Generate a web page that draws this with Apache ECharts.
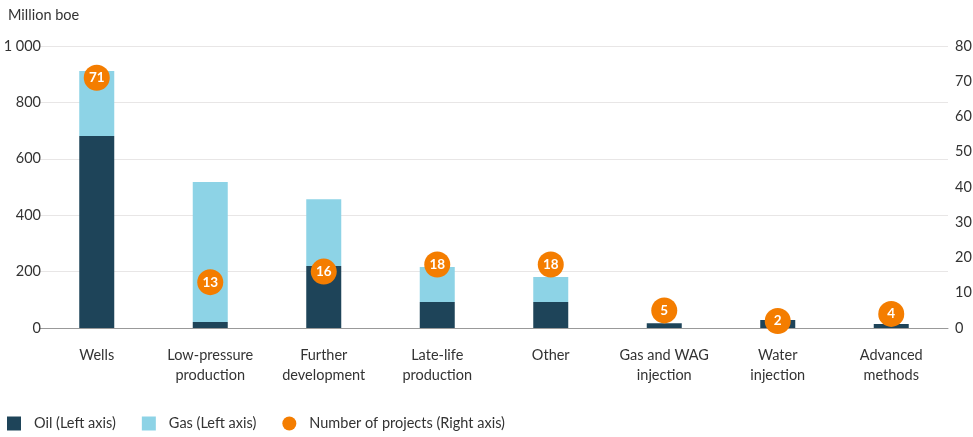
<!DOCTYPE html>
<html>
<head>
<meta charset="utf-8">
<script src="https://cdn.jsdelivr.net/npm/echarts@6/dist/echarts.min.js"></script>
<style>
  html, body { margin: 0; padding: 0; background: #fff; }
  #chart { width: 973px; height: 437px; }
</style>
</head>
<body>
<div id="chart"></div>
<script>
// Categories of measures and their volumes (million boe) and project counts
const categories = [
  'Wells', 'Low-pressure\nproduction', 'Further\ndevelopment', 'Late-life\nproduction',
  'Other', 'Gas and WAG\ninjection', 'Water\ninjection', 'Advanced\nmethods'
];
const oil = [681, 21, 220, 92, 92, 17, 28, 14];
const gas = [230, 497, 237, 124, 89, 0, 0, 0];
const projects = [71, 13, 16, 18, 18, 5, 2, 4];
const leftTicks = [0, 200, 400, 600, 800, 1000];
const rightTicks = [0, 10, 20, 30, 40, 50, 60, 70, 80];

const FONT = 'Lato';
const OIL_COLOR = '#1e4459';
const GAS_COLOR = '#8dd3e6';
const PROJ_COLOR = '#f47d00';

const chart = echarts.init(document.getElementById('chart'));
chart.setOption({
  animation: false,
  textStyle: { fontFamily: FONT },
  title: {
    text: 'Million boe',
    left: 3, top: 3,
    textStyle: { fontFamily: FONT, fontSize: 14.5, fontWeight: 'normal', color: '#333' }
  },
  legend: {
    left: 2, top: 411,
    itemWidth: 14, itemHeight: 14, itemGap: 26,
    textStyle: { fontFamily: FONT, fontSize: 14.5, color: '#333', padding: [0, 0, 0, 8] },
    data: [
      { name: 'Oil (Left axis)', icon: 'rect' },
      { name: 'Gas (Left axis)', icon: 'rect' },
      { name: 'Number of projects (Right axis)', icon: 'circle' }
    ]
  },
  grid: { left: 40, right: 25, top: 46, bottom: 109, outerBoundsMode: 'none' },
  xAxis: {
    type: 'category',
    data: categories,
    axisTick: { show: false },
    axisLine: { lineStyle: { color: '#999' } },
    axisLabel: {
      interval: 0, fontFamily: FONT, fontSize: 14.5, color: '#333', margin: 18, lineHeight: 19.5
    }
  },
  yAxis: [
    {
      type: 'value', min: leftTicks[0], max: leftTicks[leftTicks.length - 1], interval: 200,
      axisLine: { show: false }, axisTick: { show: false },
      splitLine: { lineStyle: { color: '#e8e6e6' } },
      axisLabel: {
        fontFamily: FONT, fontSize: 14.5, color: '#333', margin: -1,
        formatter: v => String(v).replace(/\B(?=(\d{3})+(?!\d))/g, ' ')
      }
    },
    {
      type: 'value', min: rightTicks[0], max: rightTicks[rightTicks.length - 1], interval: 10,
      axisLine: { show: false }, axisTick: { show: false },
      splitLine: { show: false },
      axisLabel: { fontFamily: FONT, fontSize: 14.5, color: '#333', margin: 7 }
    }
  ],
  series: [
    {
      name: 'Oil (Left axis)', type: 'bar', stack: 'vol', yAxisIndex: 0,
      barWidth: 35, data: oil, itemStyle: { color: OIL_COLOR }
    },
    {
      name: 'Gas (Left axis)', type: 'bar', stack: 'vol', yAxisIndex: 0,
      barWidth: 35, data: gas, itemStyle: { color: GAS_COLOR }
    },
    {
      name: 'Number of projects (Right axis)', type: 'scatter', yAxisIndex: 1,
      data: projects, symbolSize: 26, z: 5,
      itemStyle: { color: PROJ_COLOR, opacity: 1 },
      label: {
        show: true, position: 'inside', color: '#fff',
        fontFamily: FONT, fontSize: 13.5, fontWeight: 'bold'
      }
    }
  ]
});
</script>
</body>
</html>
